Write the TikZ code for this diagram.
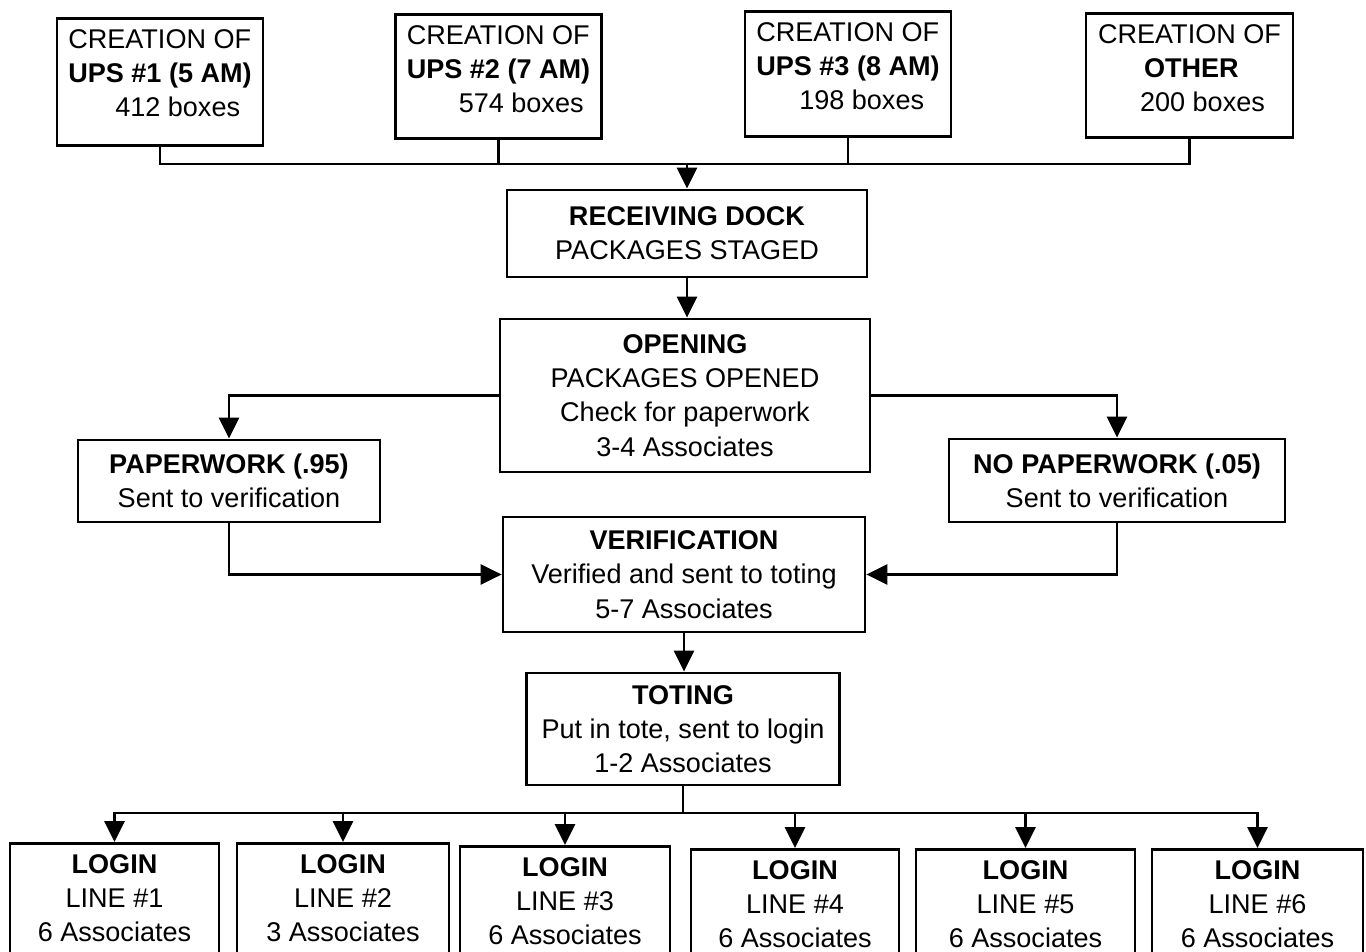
\documentclass[tikz,border=0pt]{standalone}
\usepackage{fontspec}
\setmainfont{Liberation Sans}
\usetikzlibrary{arrows.meta}

\begin{document}
\begin{tikzpicture}[x=0.02cm,y=-0.02cm]

      \tikzset{box/.style={draw, rectangle, line width=1.6pt, inner sep=0.15cm, align=center, font=\fontsize{15.4}{19.5}\selectfont},
               topbox/.style={box, inner sep=0.22cm, anchor=north, align=left},
               loginbox/.style={box, inner sep=0.22cm, anchor=north},
               link/.style={line width=1.6pt},
               flow/.style={line width=1.6pt, -{Triangle[width=0.4cm,length=0.42cm]}}}
      \path[use as bounding box, clip] (0,0) rectangle (1366,952);
%% Boxes
      	\node[topbox, minimum width=4.12cm] (ups1) at (160,17) {CREATION OF\\ \textbf{UPS \#1 (5 AM)}\\ \hspace*{0.94cm}412 boxes\rule[-0.36cm]{0pt}{0pt}};
      	\node[topbox, minimum width=4.06cm] (ups2) at (498.5,13) {CREATION OF\\ \textbf{UPS \#2 (7 AM)}\\ \hspace*{1.04cm}574 boxes\rule[-0.3cm]{0pt}{0pt}};
      	\node[topbox, minimum width=4.12cm] (ups3) at (848,10) {CREATION OF\\ \textbf{UPS \#3 (8 AM)}\\ \hspace*{0.86cm}198 boxes\rule[-0.32cm]{0pt}{0pt}};
      	\node[topbox, minimum width=4.14cm] (other) at (1189.5,12) {CREATION OF\\ \hspace*{0.92cm}\textbf{OTHER}\\ \hspace*{0.84cm}200 boxes\rule[-0.3cm]{0pt}{0pt}};
      	\node[box, minimum width=7.2cm, minimum height=1.74cm] (dock) at (687,233.5) {\textbf{RECEIVING DOCK}\\ PACKAGES STAGED};
      	\node[box, minimum width=7.4cm, minimum height=3.06cm] (opening) at (685,395.5) {\textbf{OPENING}\\ PACKAGES OPENED\\ Check for paperwork\\ 3-4 Associates};
      	\node[box, minimum width=6.04cm, minimum height=1.64cm] (paper) at (229,481) {\textbf{PAPERWORK (.95)}\\ Sent to verification};
      	\node[box, minimum width=6.72cm, minimum height=1.66cm] (nopaper) at (1117,480.5) {\textbf{NO PAPERWORK (.05)}\\ Sent to verification};
      	\node[box, minimum width=7.24cm, minimum height=2.3cm] (verif) at (684,574.5) {\textbf{VERIFICATION}\\ Verified and sent to toting\\ 5-7 Associates};
      	\node[box, minimum width=6.26cm, minimum height=2.24cm] (toting) at (683,729) {\textbf{TOTING}\\ Put in tote, sent to login\\ 1-2 Associates};
      	\node[loginbox, minimum width=4.18cm] (login1) at (114.5,842) {\textbf{LOGIN}\\ LINE \#1\\ 6 Associates\rule[-1cm]{0pt}{0pt}};
      	\node[loginbox, minimum width=4.24cm] (login2) at (343,842) {\textbf{LOGIN}\\ LINE \#2\\ 3 Associates\rule[-1cm]{0pt}{0pt}};
      	\node[loginbox, minimum width=4.2cm] (login3) at (565,845) {\textbf{LOGIN}\\ LINE \#3\\ 6 Associates\rule[-1cm]{0pt}{0pt}};
      	\node[loginbox, minimum width=4.16cm] (login4) at (795,848) {\textbf{LOGIN}\\ LINE \#4\\ 6 Associates\rule[-1cm]{0pt}{0pt}};
      	\node[loginbox, minimum width=4.38cm] (login5) at (1025.5,848) {\textbf{LOGIN}\\ LINE \#5\\ 6 Associates\rule[-1cm]{0pt}{0pt}};
      	\node[loginbox, minimum width=4.22cm] (login6) at (1257.5,848) {\textbf{LOGIN}\\ LINE \#6\\ 6 Associates\rule[-1cm]{0pt}{0pt}};
      	\coordinate (topbus) at (687,164);
      	\coordinate (lowbus) at (683,813);
%Arrows
		\draw[link] (ups1.south) |- (topbus);
		\draw[link] (ups2.south) |- (topbus);
		\draw[link] (ups3.south) |- (topbus);
		\draw[link] (other.south) |- (topbus);
		\draw[flow] (topbus) -- (dock.north);
		\draw[flow] (dock.south) -- (dock.south |- opening.north);
		\draw[flow] (opening.west) -| (paper.north);
		\draw[flow] (opening.east) -| (nopaper.north);
		\draw[flow] (paper.south) |- (verif.west);
		\draw[flow] (nopaper.south) |- (verif.east);
		\draw[flow] (verif.south) -- (verif.south |- toting.north);
		\draw[link] (toting.south) -- (lowbus);
		\draw[flow] (lowbus) -| (login1.north);
		\draw[flow] (lowbus) -| (login2.north);
		\draw[flow] (lowbus) -| (login3.north);
		\draw[flow] (lowbus) -| (login4.north);
		\draw[flow] (lowbus) -| (login5.north);
		\draw[flow] (lowbus) -| (login6.north);

\end{tikzpicture}
\end{document}
